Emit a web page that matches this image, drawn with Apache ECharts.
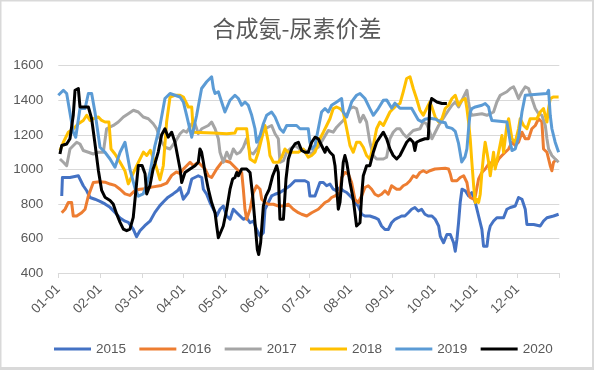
<!DOCTYPE html>
<html>
<head>
<meta charset="utf-8">
<script src="https://cdn.jsdelivr.net/npm/echarts@6/dist/echarts.min.js"></script>
<style>html,body{margin:0;padding:0;background:#fff;}#main{width:594px;height:370px;}</style>
</head>
<body>
<div id="main"></div>
<script>
// x = day of year (0..365), y = price spread
const tickLabels = ['01-01','02-01','03-01','04-01','05-01','06-01','07-01','08-01','09-01','10-01','11-01','12-01'];
const seriesNames = ['2015','2016','2017','2018','2019','2020'];
const seriesColors = ['#4472C4','#ED7D31','#A5A5A5','#FFC000','#5B9BD5','#000000'];

const s2015 = [[2.5,846],[3,953],[8.5,953],[14.6,963],[18.2,905],[20.7,876],[23.1,837],[26.7,827],[30.4,815],[34,800],[37.7,780],[41.3,750],[45,718],[48.6,700],[51,693],[54.6,654],[57,610],[59.5,645],[63,674],[66.8,700],[70.4,751],[74,790],[77,815],[80,839],[83.6,858],[87,878],[88.7,895],[91.1,827],[94.7,866],[97.2,944],[102,963],[104.5,953],[105.7,885],[108.1,856],[110.5,808],[113,769],[115.4,730],[117.8,769],[120.2,788],[122.7,730],[125.1,711],[127.5,769],[130,749],[132.4,730],[134.8,711],[137.2,720],[139.7,691],[142.1,701],[144.5,652],[147,613],[149.4,633],[150.6,769],[153,808],[155.4,846],[157.9,856],[161.5,866],[165.1,885],[168.8,905],[172.4,934],[176.1,934],[179.7,934],[182.1,924],[183.3,846],[184.6,837],[187,846],[190.6,924],[193.1,924],[195.5,905],[197.9,915],[200.3,885],[202.8,876],[205.2,895],[207.6,876],[210.1,866],[213.7,837],[216.1,808],[218.5,788],[221,740],[223.4,730],[227,730],[230.7,720],[233.1,711],[235.5,672],[238,652],[240.4,652],[242.8,691],[245.3,711],[247.7,720],[250.1,730],[252.5,730],[255,749],[257.4,769],[259.8,779],[262.3,759],[264.7,769],[267.1,740],[269.5,730],[272.2,730],[274.6,711],[277.1,672],[278.3,613],[280.7,575],[283.1,623],[285.6,623],[288,575],[289.2,526],[290.4,594],[291.6,691],[292.8,808],[294.1,885],[296.5,876],[298.9,846],[301.3,866],[303.8,808],[306.2,730],[308.6,652],[309.8,555],[312.3,555],[313.5,633],[314.7,672],[317.1,701],[319.5,720],[324.4,720],[326.8,769],[329.3,779],[332.9,788],[335.3,837],[337.8,827],[340.2,769],[341.4,681],[346.3,681],[351.1,672],[353.5,701],[356,720],[360.8,730],[364.5,740]];

const s2016 = [[2.5,749],[4.9,769],[7.3,808],[9.7,808],[10.9,730],[13.4,730],[17,749],[19.5,769],[21.9,846],[25.5,924],[26.7,930],[30.4,928],[34,926],[37.7,915],[41.3,907],[45,885],[48.6,858],[52.2,849],[56,878],[59.5,885],[63.2,887],[68,897],[75,907],[79,920],[82.6,965],[86,985],[88.7,975],[91.1,1002],[93.5,1021],[96,1041],[98.4,1021],[102,1041],[104.5,1021],[106.9,1002],[109.3,963],[111.7,953],[115.4,1002],[119,1041],[121.4,1050],[125.1,1041],[128.7,1012],[131.2,992],[133.6,982],[134.8,885],[136,769],[137.2,711],[138.4,711],[139.7,769],[142.1,866],[144.5,905],[147,885],[148.2,827],[150.6,808],[153,798],[156.7,798],[160.3,788],[164,788],[167.6,798],[171.2,769],[174.9,749],[177.3,740],[181,730],[184.6,749],[189.4,769],[191.8,788],[194.3,808],[196.7,817],[199.1,837],[201.6,846],[205.2,866],[206.4,953],[208.8,982],[211.3,973],[213.7,924],[216.1,827],[218.5,808],[221,846],[223.4,895],[225.8,905],[228.3,885],[230.7,856],[233.1,846],[235.5,856],[238,876],[240.4,856],[242.8,905],[246.5,885],[248.9,885],[251.3,905],[253.8,915],[256.2,934],[258.6,963],[261,953],[263.5,982],[265.9,992],[268.3,982],[270.7,992],[274.4,1002],[281.9,1006],[284.3,1002],[285.6,973],[286.8,934],[290.4,934],[292.8,953],[295.3,963],[297.7,924],[298.9,866],[300.1,837],[302.6,827],[303.8,846],[306.2,944],[308.6,982],[311,1002],[313.5,1031],[315.9,1041],[318.3,1021],[320.8,1060],[323.2,1080],[325.6,1099],[328.1,1118],[330.5,1157],[332.9,1138],[335.3,1157],[337.8,1215],[340.2,1177],[342.6,1177],[345,1235],[347.5,1254],[349.9,1293],[352.3,1274],[353.5,1118],[356,1099],[358.4,1021],[359.6,992],[360.8,1041],[363.3,1060]];

const s2017 = [[1.2,1060],[3.7,1041],[6.1,1021],[8.5,1118],[11,1138],[13.4,1157],[15.8,1147],[18.2,1109],[21.9,1099],[25.5,1089],[29.2,1099],[32.8,1099],[35.2,1235],[40.1,1254],[43.7,1274],[47.4,1303],[51,1322],[54.7,1342],[58.3,1332],[61.9,1303],[65.6,1293],[69.2,1264],[71.7,1235],[74.1,1177],[77.7,1128],[81.4,1118],[85,1157],[88.7,1206],[91.1,1225],[93.5,1215],[97.2,1264],[99.6,1264],[102,1206],[104.5,1235],[109.3,1254],[111.7,1274],[114.2,1235],[116.6,1177],[117.8,1099],[120.2,1041],[122.7,1099],[125.1,1060],[127.5,1118],[130,1089],[132.4,1099],[134.8,1128],[137.2,1177],[139.7,1099],[142.1,1089],[145.7,1128],[148.1,1206],[150.6,1235],[155.4,1254],[157.9,1206],[160.3,1177],[161.5,1041],[164,1050],[166.4,1099],[168.8,1118],[172.4,1138],[176.1,1118],[179.7,1109],[182.1,1099],[184.6,1089],[187,1118],[189.4,1128],[193.1,1177],[196.7,1225],[200.3,1215],[202.8,1244],[205.2,1264],[207.6,1283],[210.1,1313],[212.5,1352],[214.9,1361],[217.3,1352],[219.8,1274],[222.2,1313],[224.6,1274],[227,1157],[229.5,1080],[231.9,1060],[236.8,1060],[239.2,1070],[241.6,1177],[244,1215],[246.5,1235],[248.9,1235],[251.3,1206],[253.8,1186],[256.2,1206],[258.6,1225],[263.5,1235],[265.9,1274],[268.3,1264],[270.7,1215],[272.2,1177],[274.6,1215],[277.1,1254],[279.5,1283],[281.9,1313],[284.3,1342],[286.8,1371],[289.2,1390],[291.6,1361],[294.1,1400],[296.5,1439],[297.7,1458],[298.9,1390],[300.1,1332],[301.3,1313],[308.6,1322],[312.3,1313],[314.7,1322],[317.1,1332],[319.5,1390],[322,1429],[326.8,1449],[329.3,1468],[331.7,1478],[332.9,1458],[335.3,1410],[337.8,1449],[340.2,1478],[342.6,1468],[345,1410],[347.5,1352],[349.9,1322],[352.3,1313],[354.8,1254],[356,1177],[357.2,1118],[359.6,1080],[362,1060],[364.5,1041]];

const s2018 = [[1.2,1109],[3.7,1157],[7.3,1215],[11,1235],[14.6,1264],[18.2,1283],[20.7,1313],[23.1,1283],[25.5,1293],[29.2,1303],[31.6,1283],[34,1274],[36.9,1274],[38.4,1118],[41.3,1089],[45,1041],[48.6,990],[51,916],[54.7,980],[58.3,1040],[62,1100],[64.4,1080],[67,1110],[70.4,1040],[74.1,940],[76.5,1021],[78.9,1274],[81.4,1419],[85,1429],[88.7,1429],[91.1,1419],[94.7,1361],[97.2,1361],[98.4,1215],[112.9,1211],[122.7,1206],[128.7,1211],[130,1235],[137.2,1235],[138.4,1157],[139.7,1060],[143.3,1041],[145.7,1099],[148.1,1177],[150.6,1254],[153,1157],[154.2,1080],[156.7,1041],[160.3,1041],[162.7,1070],[165.1,1118],[167.6,1099],[174.9,1099],[178.5,1118],[182.1,1070],[184.6,1080],[187,1099],[190.6,1177],[193.1,1215],[195.5,1254],[197.9,1293],[200.3,1352],[202.8,1361],[205.2,1352],[207.6,1332],[210.1,1235],[212.5,1138],[214.9,1099],[217.3,1157],[219.8,1157],[222.2,1128],[224.6,1080],[227,1060],[229.5,1138],[231.9,1235],[234.3,1274],[236.8,1254],[239.2,1293],[241.6,1332],[244,1352],[246.5,1371],[248.9,1381],[251.3,1449],[253.8,1526],[256.2,1536],[258.6,1468],[261,1410],[263.5,1342],[265.9,1313],[268.3,1352],[270.7,1390],[272.2,1360],[274.6,1303],[277.1,1274],[279.5,1293],[281.9,1352],[284.3,1371],[286.8,1410],[289.2,1429],[291.6,1371],[294.1,1400],[296.5,1410],[297.7,1352],[298.9,1274],[300.1,1177],[301.3,1041],[302.6,905],[303.8,808],[305,827],[306.2,808],[307.4,856],[308.6,982],[309.8,1080],[311,1157],[312.3,1099],[313.5,1041],[314.7,963],[317.1,1099],[318.3,1002],[320.8,1099],[323.2,1196],[324.4,1099],[326.8,1254],[328.1,1293],[330.5,1177],[332.9,1157],[335.3,1235],[336.5,1293],[339,1254],[341.4,1235],[343.8,1293],[348.7,1293],[351.1,1332],[353.5,1352],[356,1274],[357.2,1352],[358.4,1410],[360.8,1419],[364.5,1419]];

const s2019 = [[0,1429],[3.7,1458],[6.1,1439],[10.9,1215],[12.7,1186],[15.8,1352],[19.5,1352],[21.9,1439],[24.3,1439],[26.7,1332],[30.4,1128],[34,1099],[37.7,1060],[41.3,1012],[45,1099],[48.6,1157],[52.2,1000],[55.9,890],[58.3,845],[61.8,858],[64,900],[66.8,982],[70.4,1138],[74.1,1254],[77.7,1410],[81.4,1439],[85,1429],[88.7,1419],[91.1,1390],[93.5,1313],[97.2,1186],[98.4,1186],[100.8,1313],[104.4,1468],[108.1,1507],[111.7,1536],[113,1468],[114.2,1439],[116.6,1449],[119,1390],[121.4,1332],[125.1,1400],[128.7,1429],[131.2,1410],[133.6,1371],[136,1390],[138.4,1371],[140.9,1313],[143.3,1235],[144.5,1157],[147,1196],[149.4,1264],[151.8,1313],[155.4,1332],[157.9,1303],[161.5,1235],[164,1215],[166.4,1254],[173.6,1254],[176.1,1235],[179.7,1235],[182.1,1235],[183.3,1157],[184.6,1118],[187,1138],[189.4,1235],[191.8,1332],[194.3,1352],[196.7,1332],[199.1,1371],[202.8,1390],[206.4,1410],[207.6,1332],[210.1,1303],[213.7,1390],[217.3,1429],[219.8,1439],[223.4,1410],[227,1352],[229.5,1313],[233.1,1352],[236.8,1400],[239.2,1402],[242.9,1354],[245.3,1383],[248.9,1354],[257.4,1354],[259.8,1320],[262.3,1286],[264.7,1276],[267.1,1290],[270.8,1296],[275,1290],[278.1,1276],[281.9,1270],[283.1,1245],[286.8,1237],[289.2,1220],[291.6,1150],[293.9,1043],[296.3,1072],[297.7,1118],[298.9,1235],[300.1,1332],[301.3,1352],[303.8,1361],[308.6,1371],[311,1381],[313.5,1361],[314.7,1313],[315.9,1283],[326.8,1274],[328.1,1215],[329.3,1157],[330.5,1109],[332.9,1118],[335.3,1186],[337.8,1332],[340.2,1429],[356,1439],[357.2,1458],[358.4,1313],[359.6,1235],[362,1157],[364.5,1099]];

const s2020 = [[1.2,1089],[2.5,1138],[6.1,1147],[8.5,1177],[10.9,1313],[12.2,1458],[14.6,1468],[15.8,1361],[21.9,1361],[24.3,1293],[26.7,1150],[29.2,994],[31.6,878],[34,839],[37.7,820],[40,800],[42.5,742],[45,693],[47.4,654],[49.8,645],[52.2,654],[54.6,722],[57,916],[58.3,1023],[61,1023],[63.2,975],[64.4,858],[66.8,907],[69,1000],[70.4,1033],[72.8,1100],[75.3,1200],[77.7,1235],[80.1,1186],[82.6,1215],[85,1157],[88.7,1002],[89.9,924],[92.3,982],[96,1002],[99.6,1021],[102,1041],[103.2,1118],[104.4,1099],[105.7,1041],[106.9,982],[109.3,885],[111.7,808],[114.2,749],[115.4,672],[116.6,604],[117.8,613],[120.2,672],[122.7,769],[125.1,885],[127,944],[128.7,953],[130,982],[131.2,963],[133.6,1002],[137.2,1002],[139.7,982],[141.6,846],[143.3,691],[145,536],[146,507],[147.4,575],[149.4,788],[151.3,846],[153.7,885],[156.2,963],[159.1,1021],[160.3,982],[161,808],[161.5,711],[164,711],[165.9,944],[167.6,1060],[170,1118],[172.4,1147],[174.9,1157],[177.3,1109],[179.7,1099],[182.1,1099],[184.6,1157],[187,1186],[189.4,1177],[191.8,1138],[194.3,1099],[195.5,1128],[197.9,1099],[200.3,1080],[201.6,1021],[204,769],[205.2,808],[207.6,1041],[208.8,1080],[210.1,1041],[212.5,924],[214.9,827],[217.3,672],[218.5,662],[219.8,691],[221,846],[222.2,963],[224.6,1021],[227,1021],[229.5,1099],[231.9,1157],[234.3,1186],[236.8,1215],[239.2,1177],[241.6,1118],[244,1080],[246.5,1060],[248.9,1080],[251.3,1118],[253.8,1157],[256.2,1177],[258.6,1157],[259.8,1109],[261,1157],[263.5,1167],[267.1,1177],[269.5,1177],[270.7,1371],[272,1410],[275.8,1390],[279.5,1381],[283.1,1381]];

const allData = [s2015, s2016, s2017, s2018, s2019, s2020];
const DAYS_PER_MONTH = 365 / 12;

const chart = echarts.init(document.getElementById('main'), null, {renderer: 'canvas'});
const labelFont = 'Liberation Sans';
const gray = '#595959';
const lineGray = '#d9d9d9';

chart.setOption({
  animation: false,
  backgroundColor: '#ffffff',
  title: {
    text: '合成氨-尿素价差',
    left: 'center',
    top: 12,
    textStyle: {fontFamily: 'Noto Sans CJK SC', fontSize: 23, fontWeight: 'normal', color: gray}
  },
  legend: {
    data: seriesNames,
    left: 49,
    top: 337,
    icon: 'rect',
    itemWidth: 37,
    itemHeight: 3,
    itemGap: 13.3,
    textStyle: {fontFamily: labelFont, fontSize: 13.5, color: gray}
  },
  grid: {left: 58.3, right: 34.7, top: 65.7, bottom: 97},
  xAxis: {
    type: 'value',
    min: 0,
    max: 12,
    interval: 1,
    axisLine: {show: true, lineStyle: {color: lineGray, width: 1}},
    axisTick: {show: true, length: 5, lineStyle: {color: lineGray}},
    splitLine: {show: false},
    axisLabel: {
      rotate: 45,
      margin: 14,
      fontFamily: labelFont,
      fontSize: 13.5,
      color: gray,
      formatter: function (v) { return tickLabels[Math.round(v)] || ''; }
    }
  },
  yAxis: {
    type: 'value',
    min: 400,
    max: 1600,
    interval: 200,
    axisLine: {show: false},
    axisTick: {show: false},
    splitLine: {lineStyle: {color: lineGray, width: 1}},
    axisLabel: {margin: 15, fontFamily: labelFont, fontSize: 13.5, color: gray,
      formatter: function (v) { return String(v); }}
  },
  graphic: [
    {type: 'rect', shape: {x: 0, y: 0, width: 594, height: 1.5}, style: {fill: lineGray}, silent: true},
    {type: 'rect', shape: {x: 0, y: 0, width: 1.5, height: 370}, style: {fill: lineGray}, silent: true},
    {type: 'rect', shape: {x: 592, y: 0, width: 2, height: 370}, style: {fill: lineGray}, silent: true},
    {type: 'rect', shape: {x: 0, y: 367, width: 594, height: 3}, style: {fill: lineGray}, silent: true}
  ],
  series: seriesNames.map(function (name, i) {
    return {
      name: name,
      type: 'line',
      color: seriesColors[i],
      symbol: 'none',
      showSymbol: false,
      lineStyle: {width: 3, color: seriesColors[i], join: 'round'},
      data: allData[i].map(function (p) { return [p[0] / DAYS_PER_MONTH, p[1]]; })
    };
  })
});
</script>
</body>
</html>
